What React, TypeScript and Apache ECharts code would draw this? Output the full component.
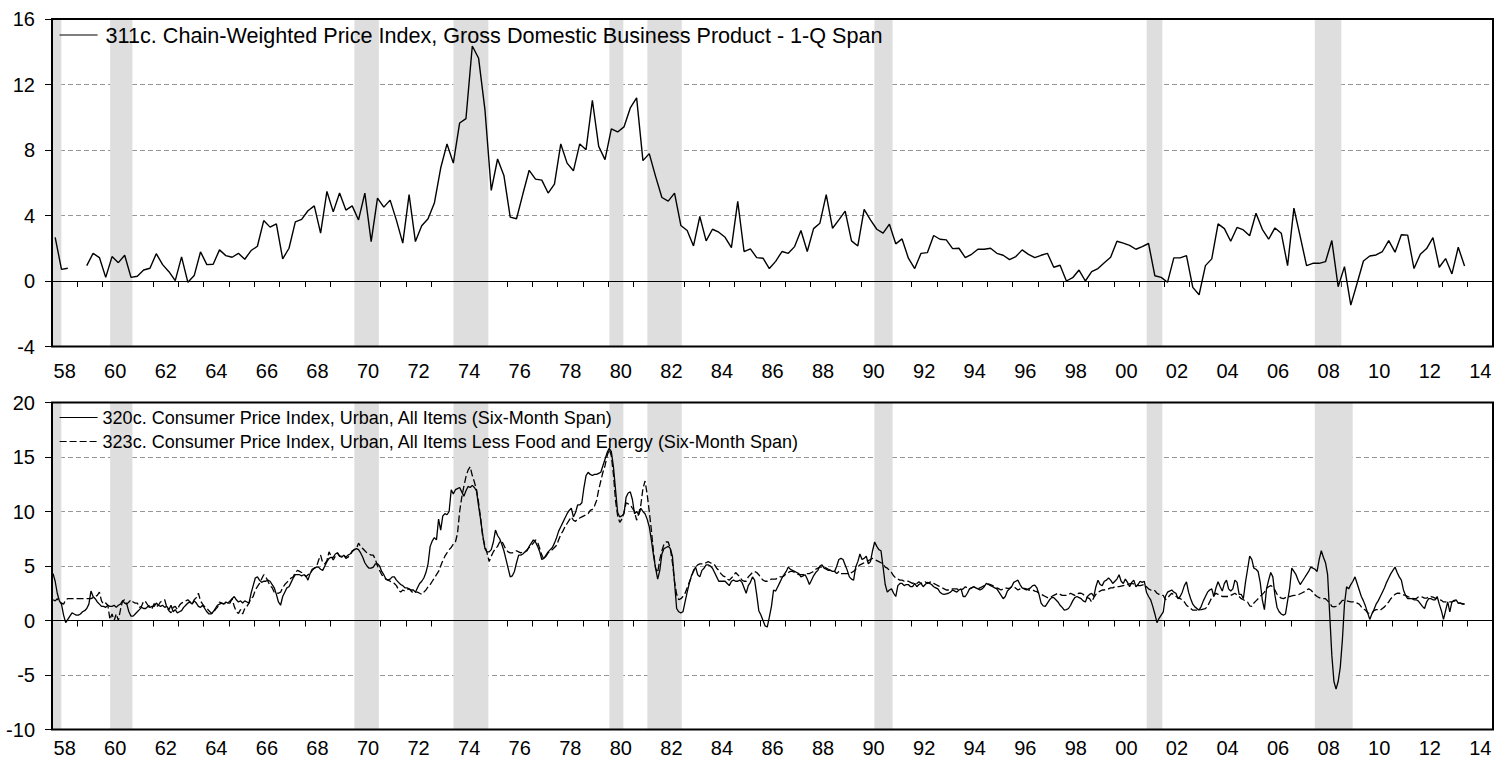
import React, { useEffect, useRef } from "react";
import * as echarts from "echarts";

const FONT = "'Liberation Sans', Arial, Helvetica, sans-serif";
const START_YEAR = 1958;

// Category labels for the year bands (ticks at year boundaries, labels centred in each year)
const yearLabels = [
  "58", "59", "60", "61", "62", "63", "64", "65", "66", "67",
  "68", "69", "70", "71", "72", "73", "74", "75", "76", "77",
  "78", "79", "80", "81", "82", "83", "84", "85", "86", "87",
  "88", "89", "90", "91", "92", "93", "94", "95", "96", "97",
  "98", "99", "00", "01", "02", "03", "04", "05", "06", "07",
  "08", "09", "10", "11", "12", "13", "14",
];

const topName = "311c. Chain-Weighted Price Index, Gross Domestic Business Product - 1-Q Span";
const cpiAllName = "320c. Consumer Price Index, Urban, All Items (Six-Month Span)";
const cpiCoreName = "323c. Consumer Price Index, Urban, All Items Less Food and Energy (Six-Month Span)";

// 311c, quarterly, 1958Q1 .. 2013Q4
const gdpPriceQ: (number | null)[] = [
  2.67, 0.71, 0.78, null, // 1958
  null, 0.94, 1.69, 1.43, // 1959
  0.22, 1.49, 1.12, 1.57, // 1960
  0.22, 0.29, 0.67, 0.78, // 1961
  1.67, 1.0, 0.57, 0.02, // 1962
  1.47, -0.08, 0.33, 1.78, // 1963
  1.0, 1.02, 1.9, 1.55, // 1964
  1.45, 1.69, 1.33, 1.86, // 1965
  2.12, 3.69, 3.29, 3.49, // 1966
  1.35, 2.0, 3.61, 3.76, // 1967
  4.29, 4.59, 2.92, 5.47, // 1968
  4.22, 5.37, 4.33, 4.59, // 1969
  3.73, 5.37, 2.41, 5.06, // 1970
  4.51, 4.94, 3.7, 2.31, // 1971
  5.27, 2.41, 3.37, 3.8, // 1972
  4.76, 6.9, 8.37, 7.2, // 1973
  9.65, 9.92, 14.35, 13.6, // 1974
  10.47, 5.53, 7.45, 6.45, // 1975
  3.9, 3.8, 5.31, 6.76, // 1976
  6.22, 6.16, 5.37, 5.92, // 1977
  8.37, 7.2, 6.73, 8.37, // 1978
  8.02, 11.04, 8.22, 7.41, // 1979
  9.29, 9.1, 9.41, 10.57, // 1980
  11.18, 7.35, 7.78, 6.39, // 1981
  5.1, 4.88, 5.37, 3.39, // 1982
  3.08, 2.14, 3.94, 2.45, // 1983
  3.16, 2.98, 2.67, 2.04, // 1984
  4.86, 1.8, 1.96, 1.43, // 1985
  1.39, 0.76, 1.2, 1.8, // 1986
  1.69, 2.1, 3.08, 1.8, // 1987
  3.2, 3.53, 5.27, 3.22, // 1988
  3.73, 4.27, 2.45, 2.14, // 1989
  4.37, 3.73, 3.16, 2.92, // 1990
  3.47, 2.27, 2.57, 1.39, // 1991
  0.76, 1.69, 1.73, 2.78, // 1992
  2.55, 2.51, 1.98, 2.0, // 1993
  1.43, 1.63, 1.94, 1.94, // 1994
  2.0, 1.69, 1.57, 1.31, // 1995
  1.49, 1.9, 1.63, 1.43, // 1996
  1.57, 1.69, 0.84, 0.96, // 1997
  0.0, 0.2, 0.67, 0.0, // 1998
  0.57, 0.76, 1.12, 1.45, // 1999
  2.43, 2.31, 2.18, 1.94, // 2000
  2.1, 2.29, 0.32, 0.22, // 2001
  -0.08, 1.41, 1.41, 1.55, // 2002
  -0.39, -0.84, 0.94, 1.35, // 2003
  3.49, 3.2, 2.43, 3.27, // 2004
  3.12, 2.76, 4.14, 3.16, // 2005
  2.55, 3.24, 2.92, 0.94, // 2006
  4.45, 2.71, 0.94, 1.08, // 2007
  1.08, 1.18, 2.47, -0.35, // 2008
  0.88, -1.47, -0.14, 1.22, // 2009
  1.53, 1.59, 1.8, 2.47, // 2010
  1.76, 2.82, 2.8, 0.76, // 2011
  1.63, 1.98, 2.65, 0.84, // 2012
  1.37, 0.43, 2.06, 0.92, // 2013
];

// 320c, monthly, Jan 1958 .. Nov 2013
const cpiAll: number[] = [
  4.3, 3.6, 2.5, 1.8, 1.5, 0.5, -0.2, 0.1, 0.4, 0.7, 0.6, 0.5, // 1958
  0.5, 0.6, 0.8, 0.9, 1.1, 1.5, 2.7, 2.2, 2.0, 1.7, 1.5, 1.3, // 1959
  1.3, 1.2, 1.4, 1.3, 1.3, 1.4, 1.2, 1.4, 1.5, 1.8, 1.6, 1.5, // 1960
  0.8, 0.4, 0.4, 0.6, 0.8, 1.0, 1.2, 1.1, 1.1, 1.3, 1.2, 1.3, // 1961
  1.3, 1.6, 1.4, 1.3, 1.4, 1.2, 1.3, 1.0, 1.4, 0.8, 1.0, 0.7, // 1962
  0.8, 0.9, 1.2, 1.4, 1.6, 1.7, 1.5, 1.8, 1.6, 1.3, 1.2, 1.4, // 1963
  1.1, 0.8, 0.6, 0.6, 0.8, 1.1, 1.4, 1.5, 1.6, 1.5, 1.7, 1.6, // 1964
  1.6, 2.0, 2.2, 1.9, 1.7, 1.8, 1.6, 1.8, 1.7, 1.6, 2.5, 3.2, // 1965
  3.9, 4.0, 3.7, 3.5, 3.6, 3.6, 3.7, 3.6, 3.3, 3.0, 2.4, 1.7, // 1966
  1.4, 2.2, 2.6, 3.0, 3.1, 3.5, 3.9, 4.2, 4.2, 4.2, 4.1, 4.2, // 1967
  4.1, 3.7, 4.3, 4.6, 4.8, 4.9, 4.9, 4.7, 4.6, 5.0, 5.4, 5.7, // 1968
  5.8, 5.8, 6.1, 6.2, 5.9, 5.8, 6.0, 5.8, 6.0, 6.1, 6.3, 6.5, // 1969
  6.6, 6.5, 6.2, 5.8, 5.3, 5.0, 4.8, 4.8, 4.9, 5.2, 5.2, 5.0, // 1970
  4.5, 4.2, 3.8, 3.7, 3.8, 4.0, 4.0, 3.7, 3.5, 3.3, 3.2, 3.0, // 1971
  3.0, 2.9, 2.8, 2.8, 2.6, 3.0, 3.4, 3.6, 3.9, 4.4, 5.2, 6.8, // 1972
  7.3, 7.6, 7.4, 9.3, 8.3, 9.6, 9.8, 9.7, 10.0, 12.0, 11.6, 12.0, // 1973
  12.1, 12.2, 11.8, 11.4, 11.9, 12.3, 12.2, 12.4, 12.2, 11.9, 10.5, 9.2, // 1974
  7.8, 6.6, 6.3, 6.3, 6.5, 7.2, 8.3, 7.8, 7.5, 7.0, 6.4, 5.6, // 1975
  4.8, 4.0, 4.1, 4.5, 5.3, 6.0, 6.0, 6.1, 6.3, 6.4, 6.8, 7.1, // 1976
  7.4, 7.2, 6.8, 6.3, 5.6, 5.7, 6.0, 6.3, 6.5, 6.7, 7.1, 7.6, // 1977
  8.2, 8.6, 9.0, 9.4, 9.8, 10.1, 10.3, 9.5, 9.9, 10.6, 10.6, 10.8, // 1978
  12.2, 13.3, 13.6, 13.4, 13.3, 13.4, 13.4, 13.5, 13.6, 14.2, 14.8, 15.4, // 1979
  15.8, 15.5, 14.1, 12.0, 9.9, 9.5, 9.6, 9.8, 11.3, 11.7, 11.8, 11.1, // 1980
  9.8, 10.0, 9.7, 10.3, 10.0, 9.8, 9.3, 8.6, 7.4, 6.0, 4.8, 3.8, // 1981
  4.6, 6.1, 6.6, 6.7, 6.8, 6.6, 5.9, 3.5, 1.1, 0.8, 0.7, 0.8, // 1982
  1.7, 2.6, 3.4, 4.1, 4.5, 4.9, 4.2, 4.0, 4.6, 4.8, 5.1, 5.1, // 1983
  5.0, 4.8, 4.4, 4.0, 3.6, 3.6, 3.6, 3.6, 3.4, 3.2, 3.6, 3.7, // 1984
  3.6, 3.6, 3.7, 3.5, 3.0, 2.5, 3.2, 3.5, 4.0, 3.7, 2.4, 0.9, // 1985
  0.5, 0.0, -0.5, -0.6, 0.3, 1.3, 2.8, 2.7, 3.1, 3.5, 3.9, 4.2, // 1986
  4.5, 4.9, 4.7, 4.6, 4.5, 4.4, 4.3, 4.0, 4.1, 4.2, 3.8, 3.3, // 1987
  3.7, 4.1, 4.4, 4.6, 5.0, 5.1, 4.8, 4.7, 4.6, 4.6, 4.5, 4.5, // 1988
  5.0, 5.6, 5.7, 5.6, 5.1, 4.6, 4.0, 3.8, 3.7, 4.9, 5.4, 6.1, // 1989
  5.6, 5.7, 5.9, 5.2, 5.4, 6.4, 7.2, 6.8, 6.5, 6.4, 4.9, 3.3, // 1990
  2.6, 2.8, 2.9, 2.5, 2.2, 3.2, 3.4, 3.4, 3.2, 3.3, 3.3, 3.1, // 1991
  3.1, 3.4, 3.1, 3.3, 3.4, 3.1, 3.3, 3.5, 3.4, 3.3, 3.1, 3.0, // 1992
  2.9, 2.6, 2.45, 2.4, 2.45, 2.5, 2.6, 2.8, 2.7, 2.6, 2.8, 2.9, // 1993
  2.2, 2.2, 2.5, 2.9, 3.0, 3.1, 3.0, 2.9, 2.8, 2.9, 3.1, 3.4, // 1994
  3.3, 3.2, 3.1, 3.0, 2.9, 2.6, 2.3, 2.0, 2.2, 2.7, 2.9, 3.1, // 1995
  3.5, 3.6, 3.7, 3.3, 3.0, 2.9, 2.8, 2.9, 3.0, 3.2, 3.25, 3.0, // 1996
  2.4, 1.6, 1.35, 1.3, 1.6, 1.9, 2.1, 2.1, 1.9, 1.7, 1.4, 1.2, // 1997
  0.95, 1.0, 1.1, 1.4, 1.8, 2.1, 2.2, 2.1, 2.0, 1.8, 1.7, 2.2, // 1998
  2.4, 2.5, 2.2, 3.1, 3.7, 3.3, 3.2, 3.6, 3.7, 3.9, 3.7, 3.4, // 1999
  3.6, 3.8, 4.2, 3.6, 3.4, 3.8, 3.5, 3.1, 3.5, 3.7, 3.1, 3.3, // 2000
  3.6, 3.5, 3.6, 2.6, 2.2, 1.9, 1.3, 0.6, -0.2, 0.2, 0.5, 0.8, // 2001
  2.2, 2.6, 2.7, 2.8, 2.6, 2.5, 2.0, 2.2, 2.6, 3.2, 3.55, 2.6, // 2002
  2.0, 1.5, 1.25, 1.1, 0.95, 1.3, 1.8, 2.2, 2.6, 2.8, 2.9, 2.2, // 2003
  3.0, 3.55, 3.1, 2.7, 3.4, 3.7, 2.9, 2.7, 2.9, 3.7, 3.5, 2.4, // 2004
  2.4, 2.0, 3.5, 4.7, 5.9, 5.6, 4.8, 4.7, 4.5, 3.5, 1.9, 1.0, // 2005
  2.9, 3.7, 4.4, 4.0, 2.3, 1.2, 0.8, 0.6, 0.5, 0.6, 1.8, 3.0, // 2006
  4.8, 4.5, 4.2, 3.7, 3.3, 3.6, 3.9, 4.2, 4.5, 4.9, 4.8, 4.7, // 2007
  4.5, 5.6, 6.4, 5.8, 5.3, 4.2, 0.5, -3.2, -5.6, -6.3, -5.6, -4.3, // 2008
  -1.8, 1.5, 3.1, 2.9, 3.3, 3.6, 4.0, 3.4, 2.8, 2.2, 1.8, 1.3, // 2009
  0.7, 0.1, 0.6, 1.0, 1.5, 1.8, 2.2, 2.6, 3.0, 3.5, 3.9, 4.3, // 2010
  4.6, 4.9, 4.4, 4.0, 3.7, 2.8, 2.3, 2.0, 2.0, 2.0, 1.9, 1.9, // 2011
  1.8, 1.55, 1.3, 1.1, 1.7, 2.0, 2.0, 1.9, 1.9, 2.2, 1.5, 0.9, // 2012
  0.1, 0.9, 1.7, 0.8, 1.7, 1.8, 1.9, 1.6, 1.6, 1.5, 1.5, // 2013
];

// 323c, monthly, Jan 1958 .. Nov 2013
const cpiCore: number[] = [
  1.9, 1.8, 2.0, 1.7, 1.6, 1.5, 1.9, 2.0, 2.0, 2.0, 2.0, 2.0, // 1958
  2.0, 2.0, 2.0, 2.0, 2.0, 2.0, 2.0, 2.1, 2.2, 2.3, 2.6, 1.8, // 1959
  1.5, 1.6, 1.4, 0.1, 0.6, 0.0, 0.6, 0.0, 1.0, 1.8, 1.9, 1.5, // 1960
  1.7, 1.9, 1.7, 1.6, 1.6, 1.2, 1.3, 1.8, 1.7, 1.4, 1.3, 1.1, // 1961
  1.55, 1.25, 1.4, 1.7, 1.8, 1.9, 1.2, 0.9, 0.7, 1.2, 1.3, 1.0, // 1962
  1.4, 1.6, 1.7, 1.8, 1.9, 1.7, 1.5, 1.9, 2.1, 2.5, 1.8, 1.5, // 1963
  1.25, 1.1, 0.9, 0.7, 0.65, 1.0, 1.2, 1.7, 1.6, 1.55, 1.55, 1.6, // 1964
  1.8, 2.0, 1.3, 0.8, 0.65, 1.0, 0.6, 1.1, 1.3, 1.6, 2.0, 2.2, // 1965
  2.8, 3.1, 3.4, 3.8, 4.2, 4.0, 3.6, 3.2, 3.0, 2.6, 2.5, 2.5, // 1966
  2.6, 3.0, 3.3, 3.5, 3.7, 3.9, 4.0, 4.4, 4.6, 4.5, 4.4, 4.3, // 1967
  4.0, 4.2, 4.3, 4.7, 4.8, 4.9, 5.5, 6.0, 5.3, 5.2, 5.5, 6.3, // 1968
  5.9, 5.55, 5.9, 6.2, 5.9, 5.9, 6.0, 5.7, 5.8, 6.0, 6.4, 6.5, // 1969
  6.6, 7.1, 6.8, 6.6, 6.4, 6.2, 6.1, 6.0, 6.0, 5.6, 5.0, 4.6, // 1970
  4.2, 4.0, 3.8, 3.7, 3.6, 3.5, 3.4, 3.2, 2.8, 2.6, 2.8, 2.7, // 1971
  2.8, 2.9, 2.7, 2.5, 2.6, 2.6, 2.5, 2.4, 2.6, 2.8, 3.1, 3.3, // 1972
  3.6, 3.9, 4.2, 4.5, 5.0, 5.5, 5.9, 6.2, 6.5, 6.7, 7.0, 7.2, // 1973
  8.0, 10.0, 11.3, 12.3, 13.2, 13.8, 14.1, 13.3, 12.7, 12.0, 10.8, 9.3, // 1974
  7.6, 6.8, 6.2, 5.4, 5.9, 6.3, 6.6, 6.8, 7.2, 7.3, 6.9, 6.5, // 1975
  6.3, 6.2, 6.2, 6.3, 6.4, 6.3, 6.2, 6.3, 6.3, 6.5, 6.7, 6.9, // 1976
  7.1, 7.4, 7.2, 6.6, 6.0, 5.6, 5.9, 6.2, 6.4, 6.5, 6.7, 6.9, // 1977
  7.4, 7.9, 8.2, 8.6, 8.9, 9.2, 9.5, 9.2, 9.1, 9.3, 9.4, 9.5, // 1978
  9.6, 9.7, 9.8, 10.1, 10.2, 10.5, 11.0, 12.0, 12.8, 13.6, 14.2, 15.1, // 1979
  15.7, 15.1, 13.4, 11.0, 9.6, 9.0, 9.3, 9.9, 10.8, 10.7, 10.6, 10.3, // 1980
  10.0, 9.2, 9.8, 10.6, 12.1, 12.8, 11.6, 10.0, 8.3, 6.3, 4.8, 4.4, // 1981
  5.6, 6.4, 7.0, 7.2, 7.2, 6.6, 5.3, 3.6, 2.4, 1.9, 2.0, 2.2, // 1982
  2.5, 3.0, 3.5, 4.0, 4.6, 4.9, 5.1, 5.2, 5.2, 5.2, 5.3, 5.4, // 1983
  5.3, 5.2, 5.1, 4.8, 4.6, 4.3, 4.1, 4.0, 3.8, 3.7, 3.9, 4.1, // 1984
  4.4, 4.2, 4.0, 3.7, 3.6, 3.6, 4.0, 4.2, 4.4, 4.5, 4.4, 4.2, // 1985
  3.9, 3.7, 3.6, 3.6, 3.7, 3.8, 3.8, 3.8, 3.9, 4.0, 4.0, 4.1, // 1986
  4.3, 4.4, 4.5, 4.5, 4.4, 4.3, 4.2, 4.2, 4.2, 4.3, 4.3, 4.3, // 1987
  4.4, 4.5, 4.7, 4.8, 4.9, 4.9, 4.9, 4.8, 4.7, 4.6, 4.6, 4.5, // 1988
  4.3, 4.5, 4.3, 4.3, 4.3, 4.3, 4.3, 4.4, 4.5, 4.7, 4.9, 5.1, // 1989
  5.2, 5.3, 5.4, 5.5, 5.6, 5.7, 5.6, 5.5, 5.4, 5.3, 5.2, 4.9, // 1990
  4.8, 4.6, 4.4, 4.1, 3.9, 3.8, 3.7, 3.7, 3.6, 3.6, 3.6, 3.5, // 1991
  3.4, 3.5, 3.4, 3.55, 3.4, 3.5, 3.55, 3.4, 3.5, 3.55, 3.4, 3.3, // 1992
  3.2, 3.1, 3.0, 2.9, 2.8, 2.8, 2.8, 2.9, 2.9, 2.9, 2.8, 2.8, // 1993
  2.9, 3.1, 3.0, 2.9, 3.0, 3.1, 3.0, 2.9, 3.0, 3.1, 3.2, 3.25, // 1994
  3.35, 3.3, 3.2, 3.1, 3.0, 2.9, 2.8, 2.9, 3.0, 2.95, 2.95, 3.1, // 1995
  3.1, 2.95, 2.8, 2.9, 2.95, 2.95, 2.9, 2.8, 2.8, 2.8, 2.7, 2.65, // 1996
  2.5, 2.4, 2.3, 2.2, 2.1, 2.1, 2.2, 2.3, 2.4, 2.5, 2.4, 2.3, // 1997
  2.3, 2.3, 2.35, 2.5, 2.4, 2.3, 2.45, 2.5, 2.5, 2.4, 2.2, 2.1, // 1998
  2.0, 1.7, 2.1, 2.4, 2.6, 2.7, 2.8, 2.8, 2.85, 2.9, 3.0, 3.0, // 1999
  3.1, 3.1, 3.1, 3.15, 3.2, 3.25, 3.3, 3.35, 3.4, 3.35, 3.3, 3.2, // 2000
  3.2, 3.25, 3.3, 3.1, 2.9, 2.8, 2.7, 2.75, 2.5, 2.4, 2.3, 2.3, // 2001
  1.9, 2.0, 2.3, 2.5, 2.35, 2.2, 2.1, 2.0, 1.9, 1.7, 1.4, 1.25, // 2002
  1.1, 0.95, 0.95, 0.95, 0.95, 1.0, 1.05, 1.1, 1.3, 1.7, 2.1, 2.3, // 2003
  2.5, 2.4, 2.3, 2.2, 2.2, 2.2, 2.2, 2.3, 2.4, 2.5, 2.35, 2.2, // 2004
  2.0, 1.9, 1.8, 1.7, 1.35, 1.3, 1.6, 1.8, 2.0, 2.2, 2.4, 2.6, // 2005
  2.95, 3.1, 3.2, 3.1, 2.8, 2.4, 2.2, 2.05, 2.0, 2.1, 2.2, 2.2, // 2006
  2.25, 2.3, 2.3, 2.35, 2.45, 2.55, 2.65, 2.8, 2.9, 2.8, 2.6, 2.35, // 2007
  2.2, 2.1, 2.0, 2.0, 2.0, 1.8, 1.6, 1.3, 1.25, 1.3, 1.4, 1.6, // 2008
  1.85, 1.85, 1.8, 1.75, 1.7, 1.7, 1.7, 1.6, 1.5, 1.25, 1.05, 0.95, // 2009
  0.7, 0.65, 0.65, 0.9, 1.0, 1.0, 0.95, 1.1, 1.25, 1.5, 1.7, 2.0, // 2010
  2.2, 2.4, 2.5, 2.5, 2.45, 2.35, 2.3, 2.2, 2.1, 2.05, 2.0, 2.0, // 2011
  2.15, 2.2, 2.15, 2.05, 2.05, 2.2, 2.2, 2.15, 2.05, 2.0, 1.9, 1.85, // 2012
  1.7, 1.7, 1.65, 1.7, 1.7, 1.85, 1.7, 1.6, 1.6, 1.55, 1.5, // 2013
];

// Shaded recession periods (decimal years)
const recessionsTop: [number, number][] = [
  [1958.0, 1958.37], [1960.3, 1961.18], [1969.96, 1970.93], [1973.88, 1975.26],
  [1980.05, 1980.6], [1981.55, 1982.91], [1990.53, 1991.25], [2001.3, 2001.92],
  [2007.95, 2009.0],
];
const recessionsBottom: [number, number][] = [
  [1958.0, 1958.37], [1960.3, 1961.18], [1969.96, 1970.93], [1973.88, 1975.26],
  [1980.05, 1980.6], [1981.55, 1982.91], [1990.53, 1991.25], [2001.3, 2001.92],
  [2007.95, 2009.45],
];

export default function App() {
  const ref = useRef<HTMLDivElement>(null);

  useEffect(() => {
    if (!ref.current) return;
    const chart = echarts.init(ref.current, null, { renderer: "svg" });

    const qData = gdpPriceQ.map((v, i) => [START_YEAR + (i + 0.5) / 4, v === null ? "-" : v]);
    const allData = cpiAll.map((v, i) => [START_YEAR + (i + 0.5) / 12, v]);
    const coreData = cpiCore.map((v, i) => [START_YEAR + (i + 0.5) / 12, v]);

    const catAxis = (gridIndex: number, margin: number) => ({
      type: "category",
      gridIndex,
      data: yearLabels,
      boundaryGap: true,
      position: "bottom",
      axisLine: { show: false },
      axisTick: { show: true, interval: 0, length: 6, lineStyle: { color: "#000", width: 1 } },
      axisLabel: { interval: 1, margin, fontSize: 20, color: "#000", fontFamily: FONT },
      splitLine: { show: false },
    });
    const valXAxis = (gridIndex: number) => ({
      type: "value",
      gridIndex,
      min: 1958,
      max: 2015,
      position: "top",
      show: false,
    });
    const yAxis = (gridIndex: number, min: number, max: number, interval: number) => ({
      type: "value",
      gridIndex,
      min,
      max,
      interval,
      z: 1,
      axisLine: { show: false },
      axisTick: { show: true, length: 7, lineStyle: { color: "#000", width: 1 } },
      axisLabel: { margin: 17, fontSize: 20, color: "#000", fontFamily: FONT, padding: [0, 0, 5, 0] },
      splitLine: { show: true, lineStyle: { color: "#969696", width: 1, type: [5, 3] } },
    });

    const band = (xAxisIndex: number, yAxisIndex: number, list: [number, number][]) => ({
      type: "line",
      xAxisIndex,
      yAxisIndex,
      data: [],
      silent: true,
      z: 0,
      markArea: {
        silent: true,
        itemStyle: { color: "#DEDEDE" },
        data: list.map(([a, b]) => [{ xAxis: a }, { xAxis: b }]),
      },
    });

    const zeroLine = {
      silent: true,
      symbol: "none",
      label: { show: false },
      lineStyle: { color: "#000", type: "solid", width: 1 },
      data: [{ yAxis: 0 }],
    };

    const option = {
      animation: false,
      backgroundColor: "#fff",
      textStyle: { fontFamily: FONT, color: "#000" },
      grid: [
        { left: 52, top: 19, width: 1441, height: 327.5, show: true, borderColor: "#000", borderWidth: 2, backgroundColor: "transparent", z: 10 },
        { left: 52, top: 402.5, width: 1441, height: 327, show: true, borderColor: "#000", borderWidth: 2, backgroundColor: "transparent", z: 10 },
      ],
      xAxis: [catAxis(0, 14), valXAxis(0), catAxis(1, 8), valXAxis(1)],
      yAxis: [yAxis(0, -4, 16, 4), yAxis(1, -10, 20, 5)],
      legend: [
        {
          data: [topName],
          left: 59,
          top: 24,
          padding: 0,
          itemWidth: 38,
          itemHeight: 14,
          selectedMode: false,
          itemStyle: { opacity: 0, borderWidth: 0 },
          lineStyle: { width: 1.2 },
          textStyle: { fontSize: 21.6, color: "#000", fontFamily: FONT, padding: [0, 0, 0, 3] },
        },
        {
          data: [cpiAllName, cpiCoreName],
          orient: "vertical",
          left: 59,
          top: 408,
          padding: 0,
          itemWidth: 38,
          itemHeight: 14,
          itemGap: 5,
          selectedMode: false,
          itemStyle: { opacity: 0, borderWidth: 0 },
          lineStyle: { width: 1.2 },
          textStyle: { fontSize: 18, lineHeight: 19, color: "#000", fontFamily: FONT },
        },
      ],
      series: [
        band(1, 0, recessionsTop),
        band(3, 1, recessionsBottom),
        {
          name: topName,
          type: "line",
          xAxisIndex: 1,
          yAxisIndex: 0,
          data: qData,
          symbol: "none",
          connectNulls: false,
          lineStyle: { color: "#000", width: 1.4 },
          itemStyle: { color: "#000" },
          z: 3,
          markLine: zeroLine,
        },
        {
          name: cpiCoreName,
          type: "line",
          xAxisIndex: 3,
          yAxisIndex: 1,
          data: coreData,
          symbol: "none",
          lineStyle: { color: "#000", width: 1.3, type: [7, 3] },
          itemStyle: { color: "#000" },
          z: 3,
        },
        {
          name: cpiAllName,
          type: "line",
          xAxisIndex: 3,
          yAxisIndex: 1,
          data: allData,
          symbol: "none",
          lineStyle: { color: "#000", width: 1.3 },
          itemStyle: { color: "#000" },
          z: 4,
          markLine: zeroLine,
        },
      ],
    };

    chart.setOption(option as any);
    return () => chart.dispose();
  }, []);

  return (
    <div
      ref={ref}
      style={{ position: "absolute", left: 0, top: 0, width: 1509, height: 764, background: "#fff" }}
    />
  );
}
